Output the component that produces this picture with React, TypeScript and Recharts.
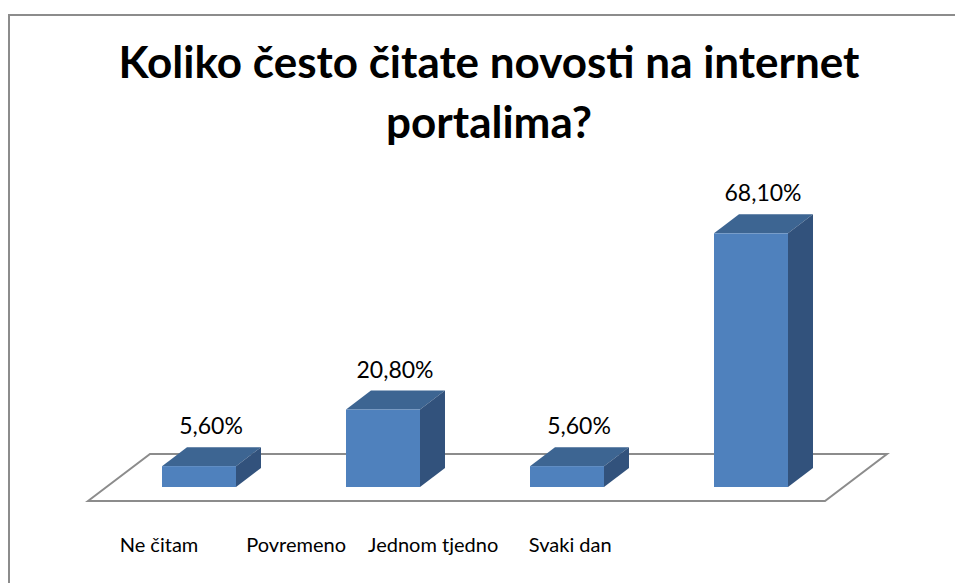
import React from 'react';
import { BarChart, Bar, XAxis, YAxis, LabelList, Customized, usePlotArea } from 'recharts';

// kategorije i vrijednosti (postoci)
const categories = ['Ne čitam', 'Povremeno', 'Jednom tjedno', 'Svaki dan'];
const percentages = [5.6, 20.8, 5.6, 68.1];
const valueLabels = ['5,60%', '20,80%', '5,60%', '68,10%'];

const data = categories.map((name, i) => ({ name, value: percentages[i], label: valueLabels[i] }));

const FONT = 'Lato, "Open Sans", sans-serif';
const DEPTH_X = 25;
const DEPTH_Y = -19;

// 3D stupac: prednja strana, gornja i bočna strana
const Bar3D = (props: any) => {
  const { x, y, width, height } = props;
  if (height <= 0) return null;
  const r = x + width;
  const b = y + height;
  return (
    <g>
      <polygon
        points={`${x},${y} ${x + DEPTH_X},${y + DEPTH_Y} ${r + DEPTH_X},${y + DEPTH_Y} ${r},${y}`}
        fill="#3d6592"
      />
      <polygon
        points={`${r},${y} ${r + DEPTH_X},${y + DEPTH_Y} ${r + DEPTH_X},${b + DEPTH_Y} ${r},${b}`}
        fill="#32527c"
      />
      <rect x={x} y={y} width={width} height={height} fill="#4f81bd" />
    </g>
  );
};

// pod grafikona (paralelogram)
const Floor = () => {
  const area = usePlotArea();
  if (!area) return null;
  const left = area.x;
  const right = area.x + area.width;
  const base = area.y + area.height;
  const pts = [
    [left - 19, base + 14],
    [left + 43, base - 33],
    [right + 44, base - 33],
    [right - 18, base + 14],
  ];
  return (
    <polygon
      points={pts.map((p) => p.join(',')).join(' ')}
      fill="#ffffff"
      stroke="#8c8c8c"
      strokeWidth={2}
    />
  );
};

const CategoryTick = (props: any) => {
  const { x, y, payload } = props;
  // oznake su u izvorniku stisnute ulijevo
  const tx = 159 + (x - 199) * 0.745;
  return (
    <text x={tx} y={y + 65} textAnchor="middle" fontFamily={FONT} fontSize={20} fill="#000">
      {payload.value}
    </text>
  );
};

const ValueLabel = (props: any) => {
  const { x, y, width, value } = props;
  return (
    <text
      x={x + width / 2 + 12}
      y={y - 32}
      textAnchor="middle"
      fontFamily={FONT}
      fontSize={23}
      fill="#000"
    >
      {value}
    </text>
  );
};

export default function App() {
  return (
    <div style={{ position: 'absolute', left: 0, top: 0, width: 955, height: 583, overflow: 'hidden', background: '#fff' }}>
      <div
        style={{
          position: 'absolute',
          left: 8,
          top: 14,
          width: 1000,
          height: 700,
          border: '2px solid #8c8c8c',
          boxSizing: 'border-box',
        }}
      />
      <div
        style={{
          position: 'absolute',
          left: 0,
          top: 31,
          width: 978,
          textAlign: 'center',
          fontFamily: FONT,
          fontWeight: 700,
          fontSize: 44,
          lineHeight: '60px',
          color: '#000',
        }}
      >
        Koliko često čitate novosti na internet
        <br />
        portalima?
      </div>
      <div style={{ position: 'absolute', left: 0, top: 0 }}>
        <BarChart
          width={955}
          height={583}
          data={data}
          margin={{ top: 189, right: 112, bottom: 66, left: 107 }}
          barSize={74}
        >
          <Customized component={<Floor />} />
          <XAxis
            dataKey="name"
            axisLine={false}
            tickLine={false}
            tickSize={0}
            tickMargin={0}
            height={30}
            interval={0}
            tick={<CategoryTick />}
          />
          <YAxis hide domain={[0, 80]} />
          <Bar dataKey="value" shape={<Bar3D />} isAnimationActive={false}>
            <LabelList dataKey="label" content={<ValueLabel />} />
          </Bar>
        </BarChart>
      </div>
    </div>
  );
}
